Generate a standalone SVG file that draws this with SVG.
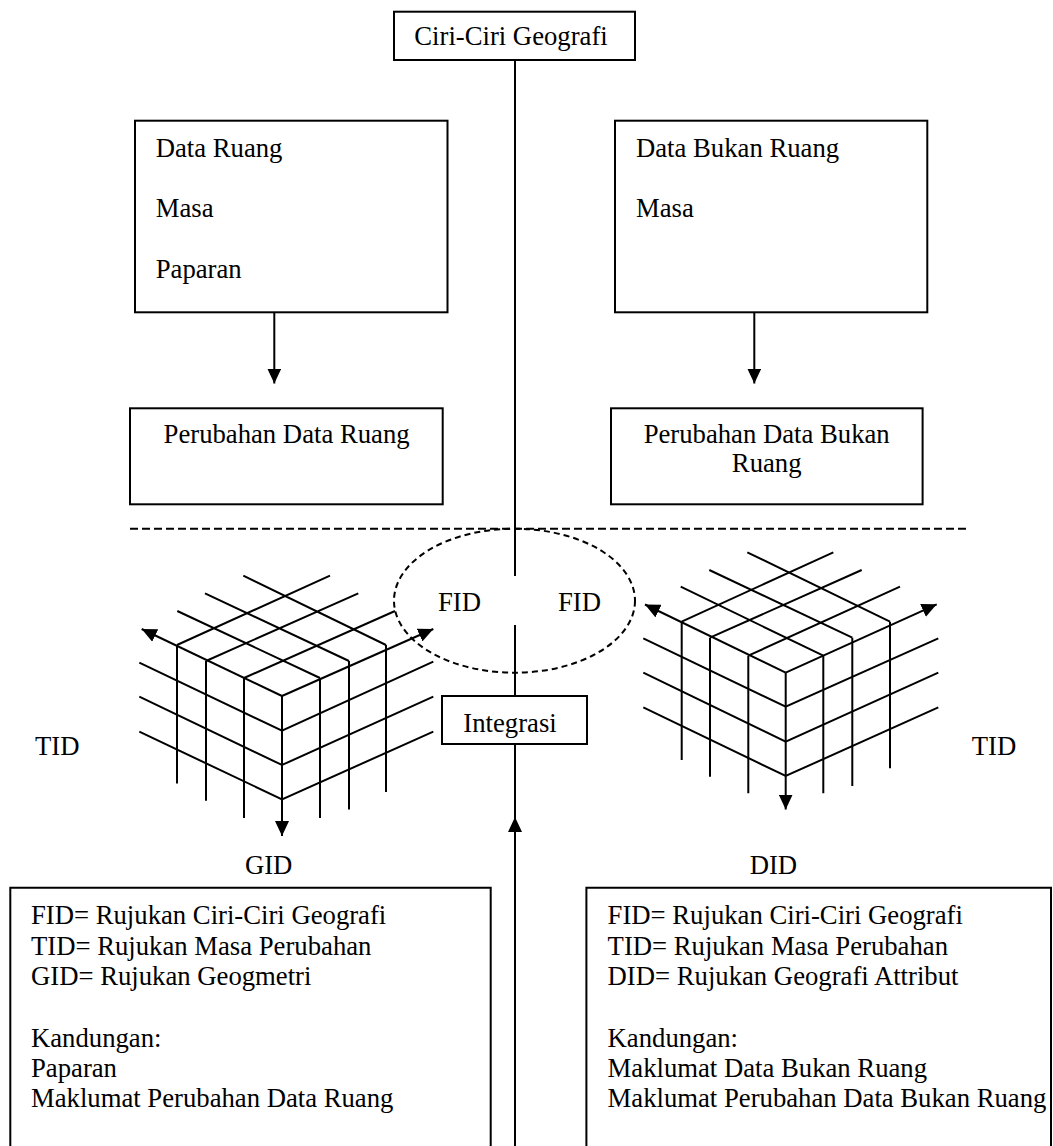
<svg xmlns="http://www.w3.org/2000/svg" width="1053" height="1146" viewBox="0 0 1053 1146">
  <style>
    text { font-family: "Liberation Serif", "Times New Roman", serif; font-size: 26.7px; fill: #000; }
    .box { fill: #fff; stroke: #000; stroke-width: 2; }
    .ln { fill: none; stroke: #000; stroke-width: 2; }
    .grid { fill: none; stroke: #000; stroke-width: 2; stroke-linecap: butt; }
    .dash { fill: none; stroke: #000; stroke-width: 2; stroke-dasharray: 8 4; }
    .dash2 { fill: none; stroke: #000; stroke-width: 2; stroke-dasharray: 6 4; }
    .mid { text-anchor: middle; }
  </style>
  <defs>
    <marker id="head" viewBox="0 0 15 14" refX="15" refY="7" markerWidth="15" markerHeight="14" markerUnits="userSpaceOnUse" orient="auto">
      <path d="M0,0 L15,7 L0,14 z" fill="#000"/>
    </marker>
  </defs>
  <rect width="1053" height="1146" fill="#fff"/>

  <!-- connectors -->
  <g id="connectors">
    <!-- central spine -->
    <line class="ln" x1="515" y1="60" x2="515" y2="576"/>
    <line class="ln" x1="515" y1="625" x2="515" y2="696"/>
    <line class="ln" x1="515" y1="744" x2="515" y2="832"/>
    <line class="ln" x1="515" y1="1146" x2="515" y2="817" marker-end="url(#head)"/>
    <!-- data to change arrows -->
    <line class="ln" x1="274.3" y1="312" x2="274.3" y2="383.5" marker-end="url(#head)"/>
    <line class="ln" x1="754.3" y1="312" x2="754.3" y2="383.5" marker-end="url(#head)"/>
    <!-- separator -->
    <line class="dash" x1="130" y1="528.7" x2="966" y2="528.7"/>
  </g>

  <g id="ciri">
    <rect class="box" x="394" y="11.7" width="241" height="48.3"/>
    <text class="mid" x="511" y="45">Ciri-Ciri Geografi</text>
  </g>

  <g id="data-ruang">
    <rect class="box" x="135" y="120.7" width="312.5" height="191.6"/>
    <text x="155.7" y="156.7">Data Ruang</text>
    <text x="155.7" y="216.7">Masa</text>
    <text x="155.7" y="278.3">Paparan</text>
  </g>

  <g id="data-bukan-ruang">
    <rect class="box" x="615" y="120.7" width="312.3" height="191.6"/>
    <text x="636" y="156.7">Data Bukan Ruang</text>
    <text x="636" y="216.7">Masa</text>
  </g>

  <g id="perubahan-ruang">
    <rect class="box" x="130" y="408.3" width="312.7" height="96"/>
    <text class="mid" x="286.6" y="443.3">Perubahan Data Ruang</text>
  </g>

  <g id="perubahan-bukan-ruang">
    <rect class="box" x="611" y="408.3" width="311.6" height="96"/>
    <text class="mid" x="766.7" y="443.3">Perubahan Data Bukan</text>
    <text class="mid" x="766.7" y="471.7">Ruang</text>
  </g>

  <g id="fid-zone">
    <ellipse class="dash2" cx="514.5" cy="600.7" rx="120.5" ry="72"/>
    <text x="438" y="611">FID</text>
    <text x="558" y="611">FID</text>
  </g>

  <g id="integrasi">
    <rect class="box" x="442" y="696" width="145" height="48"/>
    <text class="mid" x="510" y="731.7">Integrasi</text>
  </g>

  <!-- spatial data cube -->
  <g id="gid-cube">
    <!-- top face -->
    <path class="grid" d="M177,645 L330,575.7 M206,661 L358.3,593.3 M244,678 L395,611
                          M386,645 L243.3,575.7 M349,661 L205,593.3 M320,678 L177.3,611"/>
    <line class="grid" x1="282" y1="696" x2="433.3" y2="629" marker-end="url(#head)"/>
    <line class="grid" x1="282" y1="696" x2="141.7" y2="629" marker-end="url(#head)"/>
    <!-- side faces -->
    <path class="grid" d="M139.3,662.7 L282,730.7 L433.3,661.7 M139.3,696.7 L282,765 L433.3,696.7 M139.3,731.7 L282,799.3 L433.3,731.7"/>
    <!-- verticals -->
    <path class="grid" d="M177,645 V783.5 M206,661 V800.7 M244,678 V818 M320,678 V818 M349,661 V809.5 M386,645 V792"/>
    <line class="grid" x1="282" y1="696" x2="282" y2="836" marker-end="url(#head)"/>
  </g>

  <!-- attribute data cube -->
  <g id="did-cube">
    <path class="grid" d="M681.7,621.7 L833.3,552.3 M710,637.7 L861.7,570 M748.3,655.7 L900,586.7
                          M890,621.7 L747.3,552.3 M852.3,637.7 L709.3,570 M823.3,655.7 L680.7,586.7"/>
    <line class="grid" x1="785.7" y1="672.7" x2="936.7" y2="604.3" marker-end="url(#head)"/>
    <line class="grid" x1="785.7" y1="672.7" x2="645" y2="604.5" marker-end="url(#head)"/>
    <path class="grid" d="M643.3,638.3 L785.7,706.7 L938.3,638.3 M643.3,672.7 L785.7,741.7 L938.3,672.7 M643.3,707.3 L785.7,776 L938.3,707.3"/>
    <path class="grid" d="M681.7,621.7 V760 M710,637.7 V776.7 M748.3,655.7 V793.3 M823.3,655.7 V793.3 M852.3,637.7 V786 M890,621.7 V768.3"/>
    <line class="grid" x1="785.7" y1="672.7" x2="785.7" y2="809.5" marker-end="url(#head)"/>
  </g>

  <g id="axis-labels">
    <text x="35" y="755">TID</text>
    <text x="971.7" y="755">TID</text>
    <text class="mid" x="268.6" y="874.3">GID</text>
    <text class="mid" x="773.4" y="874.3">DID</text>
  </g>

  <g id="legend-gid">
    <path class="ln" d="M10.3,1150 V887.7 H490.7 V1150"/>
    <text x="31" y="924">FID= Rujukan Ciri-Ciri Geografi</text>
    <text x="31" y="955">TID= Rujukan Masa Perubahan</text>
    <text x="31" y="985">GID= Rujukan Geogmetri</text>
    <text x="31" y="1046.7">Kandungan:</text>
    <text x="31" y="1076.5">Paparan</text>
    <text x="31" y="1106.7">Maklumat Perubahan Data Ruang</text>
  </g>

  <g id="legend-did">
    <path class="ln" d="M586.4,1150 V887.7 H1051 V1150"/>
    <text x="607.6" y="924">FID= Rujukan Ciri-Ciri Geografi</text>
    <text x="607.6" y="955">TID= Rujukan Masa Perubahan</text>
    <text x="607.6" y="985">DID= Rujukan Geografi Attribut</text>
    <text x="607.6" y="1046.7">Kandungan:</text>
    <text x="607.6" y="1076.5">Maklumat Data Bukan Ruang</text>
    <text x="607.6" y="1106.7">Maklumat Perubahan Data Bukan Ruang</text>
  </g>
</svg>
